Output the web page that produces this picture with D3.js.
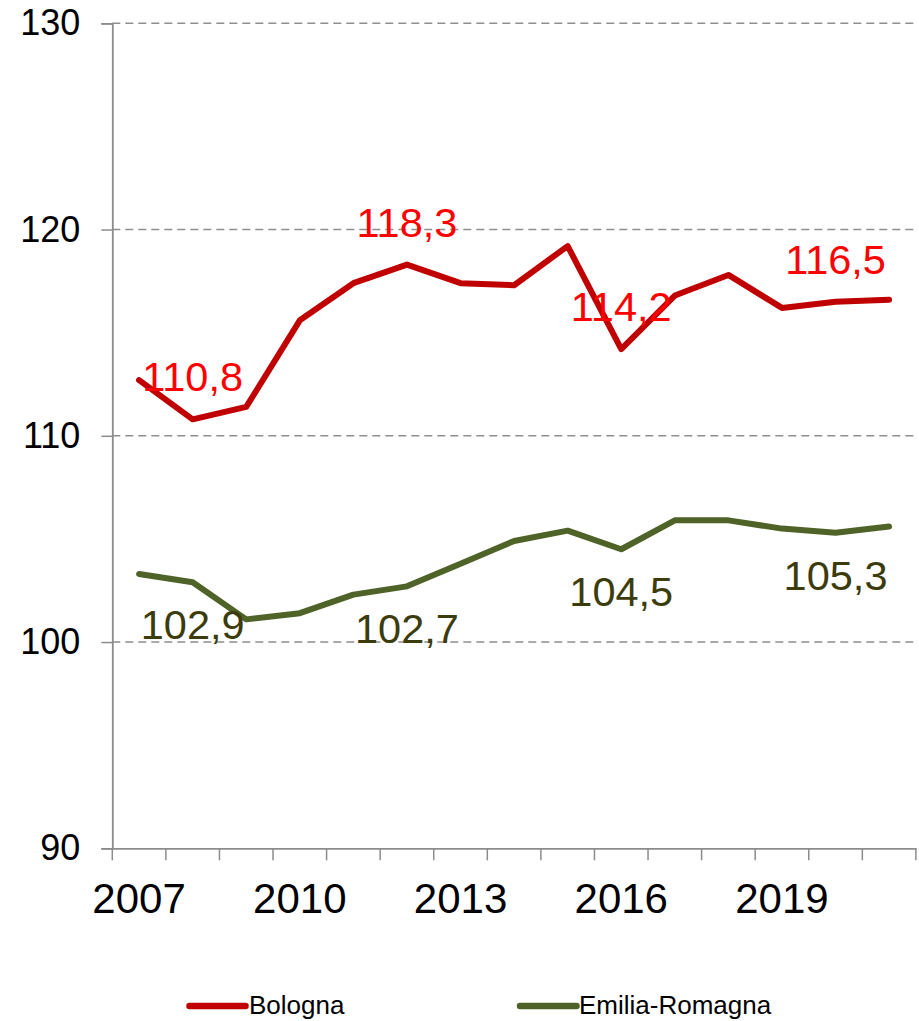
<!DOCTYPE html>
<html>
<head>
<meta charset="utf-8">
<script src="https://cdn.jsdelivr.net/npm/d3@7"></script>
<style>
  html, body { margin: 0; padding: 0; background: #fff; }
  svg { display: block; font-family: "Liberation Sans", Arial, sans-serif; }
</style>
</head>
<body>
<svg id="chart" width="919" height="1021"></svg>
<script>
// Index values, 2007–2021
const years = [2007, 2008, 2009, 2010, 2011, 2012, 2013, 2014, 2015, 2016, 2017, 2018, 2019, 2020, 2021];
const bologna = [112.7, 110.8, 111.4, 115.6, 117.4, 118.3, 117.4, 117.3, 119.2, 114.2, 116.8, 117.8, 116.2, 116.5, 116.6];
const emiliaRomagna = [103.3, 102.9, 101.1, 101.4, 102.3, 102.7, 103.8, 104.9, 105.4, 104.5, 105.9, 105.9, 105.5, 105.3, 105.6];
const yearTickLabels = [2007, 2010, 2013, 2016, 2019];
const yTicks = [90, 100, 110, 120, 130];
const labelledYears = [2008, 2012, 2016, 2020];

const series = [
  { name: "Bologna", values: bologna, color: "#C00000", labelColor: "#FF0000", labelPos: "above" },
  { name: "Emilia-Romagna", values: emiliaRomagna, color: "#4F6228", labelColor: "#3C3B0B", labelPos: "below" }
];

const svg = d3.select("#chart");
const plotLeft = 112.3, plotRight = 915.9, plotTop = 23.3, plotBottom = 848.3;

const x = d3.scaleBand().domain(years).range([plotLeft, plotRight]).padding(0);
const y = d3.scaleLinear().domain([90, 130]).range([plotBottom, plotTop]);
const cx = d => x(d) + x.bandwidth() / 2;

const fmt = d3.formatLocale({ decimal: ",", thousands: ".", grouping: [3], currency: ["", "€"] }).format(".1f");
const axisColor = "#8C8C8C";

// Horizontal gridlines
svg.append("g")
  .selectAll("line")
  .data(yTicks.filter(t => t > 90))
  .join("line")
  .attr("x1", plotLeft).attr("x2", plotRight)
  .attr("y1", d => y(d)).attr("y2", d => y(d))
  .attr("stroke", "#8F8F8F")
  .attr("stroke-width", 1.5)
  .attr("stroke-dasharray", "8,5");

// Y axis
const yAxis = svg.append("g")
  .attr("transform", `translate(${plotLeft},0)`)
  .call(d3.axisLeft(y).tickValues(yTicks).tickSize(11).tickPadding(21).tickFormat(d3.format("d")));
yAxis.select(".domain").attr("stroke", axisColor).attr("stroke-width", 1.8);
yAxis.selectAll(".tick line").attr("stroke", axisColor).attr("stroke-width", 1.5);
yAxis.selectAll(".tick text")
  .attr("fill", "#000")
  .style("font-size", "36px")
  .style("font-family", "Liberation Sans, Arial, sans-serif");

// X axis: labels at category centres, tick marks at category boundaries
const xAxis = svg.append("g")
  .attr("transform", `translate(0,${plotBottom})`)
  .call(d3.axisBottom(x).tickValues(yearTickLabels).tickSize(0).tickPadding(35).tickFormat(d3.format("d")));
xAxis.select(".domain").attr("stroke", axisColor).attr("stroke-width", 1.8);
xAxis.selectAll(".tick text")
  .attr("fill", "#000")
  .style("font-size", "42px")
  .style("font-family", "Liberation Sans, Arial, sans-serif");

const boundaries = years.map(d => x(d)).concat([x(years[years.length - 1]) + x.bandwidth()]);
xAxis.append("g")
  .selectAll("line")
  .data(boundaries)
  .join("line")
  .attr("x1", d => d).attr("x2", d => d)
  .attr("y1", 0).attr("y2", 12)
  .attr("stroke", axisColor)
  .attr("stroke-width", 1.5);

// Lines
const line = d3.line()
  .x((d, i) => cx(years[i]))
  .y(d => y(d));

series.forEach(s => {
  svg.append("path")
    .datum(s.values)
    .attr("d", line)
    .attr("fill", "none")
    .attr("stroke", s.color)
    .attr("stroke-width", 6)
    .attr("stroke-linejoin", "round")
    .attr("stroke-linecap", "round");
});

// Data labels
series.forEach(s => {
  svg.append("g")
    .selectAll("text")
    .data(labelledYears.map(yr => ({ yr, v: s.values[years.indexOf(yr)] })))
    .join("text")
    .attr("x", d => cx(d.yr))
    .attr("y", d => y(d.v) + (s.labelPos === "above" ? -28 : 57))
    .attr("text-anchor", "middle")
    .attr("fill", s.labelColor)
    .style("font-size", "41.5px")
    .text(d => fmt(d.v));
});

// Legend
const legendItems = [
  { s: series[0], x1: 189.5, x2: 245.5, tx: 249 },
  { s: series[1], x1: 520, x2: 576.5, tx: 579 }
];
const legend = svg.append("g");
legendItems.forEach(item => {
  legend.append("line")
    .attr("x1", item.x1).attr("x2", item.x2)
    .attr("y1", 1006).attr("y2", 1006)
    .attr("stroke", item.s.color)
    .attr("stroke-width", 6.5)
    .attr("stroke-linecap", "round");
  legend.append("text")
    .attr("x", item.tx)
    .attr("y", 1013.5)
    .attr("fill", "#000")
    .style("font-size", "26px")
    .text(item.s.name);
});
</script>
</body>
</html>
